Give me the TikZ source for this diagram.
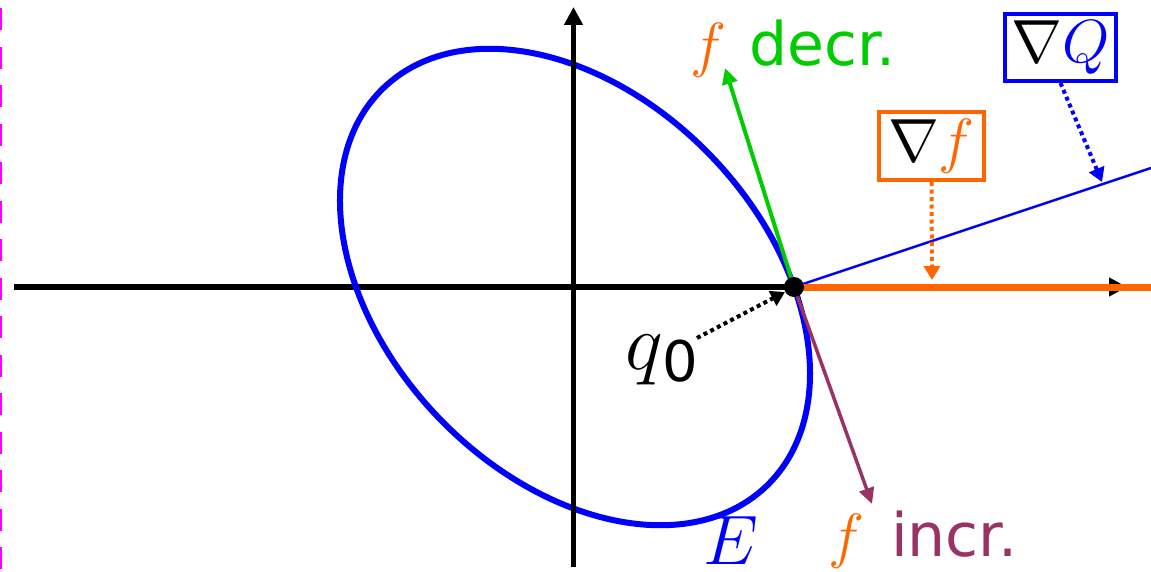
\RequirePackage{fix-cm}
\documentclass[tikz,border=0pt]{standalone}
\usepackage{fontspec}
\setsansfont{DejaVu Sans}
\usetikzlibrary{arrows.meta}
\definecolor{fblue}{RGB}{0,0,255}
\definecolor{forange}{RGB}{255,102,0}
\definecolor{fgreen}{RGB}{0,204,0}
\definecolor{fpurple}{RGB}{153,51,102}
\definecolor{fmagenta}{RGB}{255,0,255}
\begin{document}
\begin{tikzpicture}[x=1pt,y=1pt,
  axis/.style={line width=5.5pt, -{Triangle[length=18pt,width=18pt]}},
  vec/.style={line width=4pt, -{Triangle[length=16pt,width=15pt]}},
  pointer/.style={line width=4pt, dash pattern=on 4pt off 3.5pt, -{Triangle[length=14pt,width=16pt]}},
  gradbox/.style={draw, line width=4pt, inner sep=0pt, font=\fontsize{61}{70}\selectfont},
  lbl/.style={inner sep=0pt, anchor=base west, font=\fontsize{61}{70}\selectfont}
]
\useasboundingbox (-575,-284) rectangle (576,287);
% coordinates
\coordinate (O) at (0,0);
\coordinate (q0) at (219,0);
\coordinate (hl) at (-561,0);
\coordinate (hr) at (552,0);
\coordinate (vb) at (-1.5,-280);
\coordinate (vt) at (-1.5,280);
\coordinate (mt) at (-574,279);
\coordinate (mb) at (-574,-284);
\coordinate (qend) at (576,119);
\coordinate (fend) at (576,0);
\coordinate (gtip) at (150,219);
\coordinate (ptip) at (297,-217);
% dashed magenta border
\draw[fmagenta, line width=2.5pt, dash pattern=on 22pt off 16.5pt] (mt) -- (mb);
% axes and ellipse
\draw[axis] (hl) -- (hr);
\draw[fblue, line width=6pt, rotate=-46.07] (O) ellipse [x radius=276.2pt, y radius=188.9pt];
\draw[axis] (vb) -- (vt);
% gradient lines
\draw[fblue, line width=2.5pt] (q0) -- (qend);
\draw[forange, line width=7pt] (q0) -- (fend);
\draw[vec, fgreen] (q0) -- (gtip);
\draw[vec, fpurple, line width=3.5pt] (q0) -- (ptip);
\node[circle, fill=black, minimum size=20pt, inner sep=0pt] (dot) at (q0) {};
% boxes
\node[gradbox, draw=forange, minimum width=105pt, minimum height=68pt] (gf) at (356.5,141) {$\nabla {\color{forange}f}$};
\node[gradbox, draw=fblue, minimum width=111pt, minimum height=67pt] (gq) at (485.5,239.5) {$\nabla {\color{fblue}Q}$};
\coordinate (gft) at (357,7);
\coordinate (gqt) at (527,105);
\draw[pointer, forange] (gf.south) -- (gft);
\draw[pointer, fblue] (gq.south) -- (gqt);
% q0 label
\node[inner sep=0pt, anchor=base west, font=\fontsize{80}{90}\selectfont] (ql) at (50,-82) {$q$\raisebox{-12pt}{\fontsize{56}{64}\selectfont\sffamily 0}};
\coordinate (qls) at (122,-51);
\coordinate (qlt) at (210,-5);
\draw[pointer, black] (qls) -- (qlt);
% labels
\node[lbl, text=fblue, font=\fontsize{70}{80}\selectfont] (E) at (128,-277) {$E$};
\node[lbl] (dec) at (115,222) {{\color{forange}$f$}\hspace{23pt}{\fontsize{60}{68}\selectfont\sffamily\color{fgreen}decr.}};
\node[lbl] (inc) at (253,-269) {{\color{forange}$f$}\hspace{27pt}{\fontsize{60}{68}\selectfont\sffamily\color{fpurple}incr.}};
\end{tikzpicture}
\end{document}
